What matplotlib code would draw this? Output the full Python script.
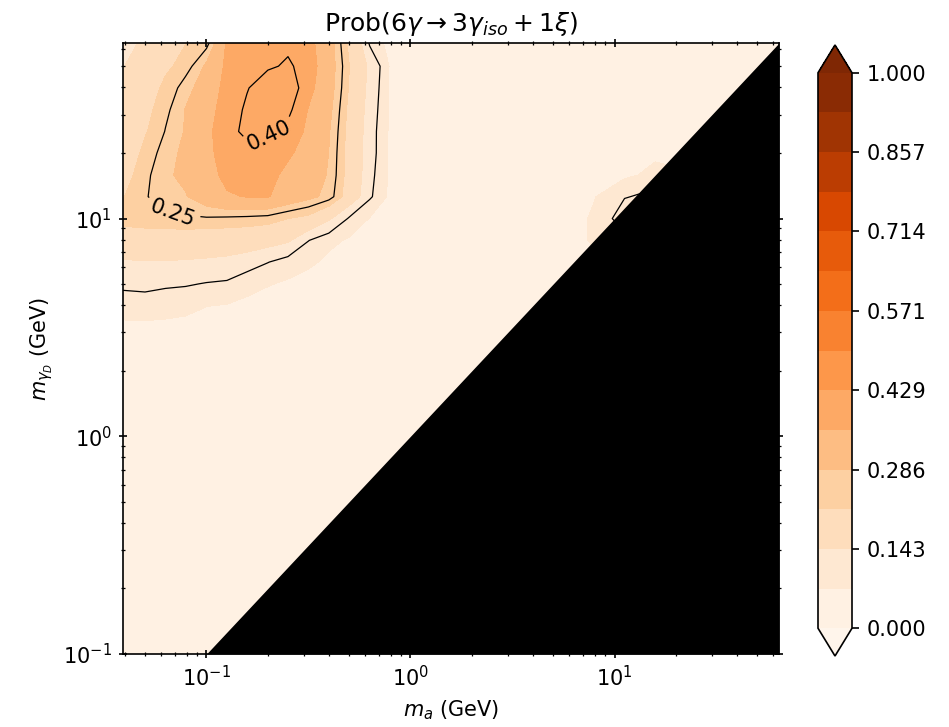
import numpy as np
import matplotlib
matplotlib.use("Agg")
import matplotlib.pyplot as plt

ma_grid = [0.039, 0.05, 0.063, 0.079, 0.1, 0.126, 0.158, 0.2, 0.251, 0.316,
           0.398, 0.501, 0.631, 0.794, 1.58, 3.98, 7.94, 11.2, 15.8, 66.0]
mgd_grid = [0.1, 1.0, 2.51, 3.16, 3.98, 5.01, 6.31, 7.94, 10.0, 12.6,
            15.8, 20.0, 25.1, 31.6, 39.8, 50.1, 66.0]

# Prob(6gamma -> 3gamma_iso + 1xi), one row per m_gammaD value (bottom to top)
prob = [
    [0.050, 0.050, 0.050, 0.050, 0.050, 0.050, 0.050, 0.050, 0.050, 0.050, 0.050, 0.050, 0.050, 0.050, 0.050, 0.050, 0.050, 0.050, 0.050, 0.050],
    [0.052, 0.052, 0.052, 0.051, 0.051, 0.050, 0.050, 0.050, 0.050, 0.050, 0.050, 0.050, 0.050, 0.050, 0.050, 0.050, 0.050, 0.050, 0.050, 0.050],
    [0.055, 0.055, 0.055, 0.054, 0.053, 0.052, 0.052, 0.051, 0.050, 0.050, 0.050, 0.050, 0.050, 0.050, 0.050, 0.050, 0.050, 0.050, 0.050, 0.050],
    [0.066, 0.066, 0.065, 0.063, 0.062, 0.060, 0.058, 0.056, 0.054, 0.052, 0.051, 0.050, 0.050, 0.050, 0.050, 0.050, 0.050, 0.050, 0.050, 0.050],
    [0.083, 0.085, 0.083, 0.080, 0.072, 0.070, 0.066, 0.062, 0.059, 0.056, 0.053, 0.052, 0.051, 0.050, 0.050, 0.050, 0.050, 0.050, 0.050, 0.050],
    [0.108, 0.110, 0.105, 0.103, 0.098, 0.095, 0.080, 0.073, 0.068, 0.063, 0.057, 0.054, 0.052, 0.050, 0.050, 0.050, 0.050, 0.050, 0.050, 0.050],
    [0.138, 0.140, 0.140, 0.138, 0.135, 0.130, 0.118, 0.101, 0.085, 0.076, 0.066, 0.058, 0.054, 0.051, 0.050, 0.050, 0.065, 0.060, 0.050, 0.050],
    [0.185, 0.187, 0.188, 0.186, 0.182, 0.180, 0.176, 0.165, 0.150, 0.101, 0.078, 0.068, 0.058, 0.053, 0.050, 0.050, 0.075, 0.090, 0.070, 0.050],
    [0.232, 0.238, 0.240, 0.245, 0.246, 0.243, 0.240, 0.235, 0.215, 0.200, 0.150, 0.095, 0.070, 0.058, 0.050, 0.050, 0.075, 0.120, 0.090, 0.050],
    [0.212, 0.246, 0.275, 0.283, 0.320, 0.352, 0.360, 0.360, 0.330, 0.300, 0.270, 0.180, 0.105, 0.064, 0.050, 0.050, 0.070, 0.098, 0.110, 0.050],
    [0.195, 0.240, 0.280, 0.295, 0.340, 0.370, 0.375, 0.370, 0.345, 0.320, 0.280, 0.190, 0.110, 0.065, 0.050, 0.050, 0.060, 0.066, 0.080, 0.050],
    [0.185, 0.225, 0.270, 0.297, 0.345, 0.380, 0.390, 0.385, 0.365, 0.335, 0.285, 0.190, 0.115, 0.065, 0.050, 0.050, 0.050, 0.060, 0.065, 0.050],
    [0.178, 0.210, 0.252, 0.290, 0.345, 0.390, 0.408, 0.405, 0.390, 0.345, 0.290, 0.195, 0.115, 0.066, 0.050, 0.050, 0.050, 0.050, 0.050, 0.050],
    [0.170, 0.200, 0.240, 0.288, 0.335, 0.385, 0.405, 0.425, 0.410, 0.355, 0.300, 0.200, 0.120, 0.066, 0.050, 0.050, 0.050, 0.050, 0.050, 0.050],
    [0.160, 0.190, 0.225, 0.268, 0.318, 0.380, 0.398, 0.420, 0.425, 0.375, 0.310, 0.210, 0.125, 0.067, 0.050, 0.050, 0.050, 0.050, 0.050, 0.050],
    [0.141, 0.170, 0.205, 0.232, 0.295, 0.372, 0.385, 0.395, 0.405, 0.385, 0.315, 0.215, 0.130, 0.068, 0.050, 0.050, 0.050, 0.050, 0.050, 0.050],
    [0.125, 0.150, 0.180, 0.210, 0.225, 0.365, 0.378, 0.388, 0.390, 0.375, 0.310, 0.200, 0.090, 0.060, 0.050, 0.050, 0.050, 0.050, 0.050, 0.050],
]

fill_levels = np.linspace(0, 1, 15)
plain_levels = [0.10]
labelled_levels = [0.25, 0.40]
cbar_ticks = np.linspace(0, 1, 8)
# where the labels of the 0.25 and 0.40 lines sit
label_pos = [(0.068, 10.8), (0.195, 25.3)]

xlim = (0.039, 64)
ylim = (0.1, 64)

X, Y = np.meshgrid(ma_grid, mgd_grid)
Z = np.array(prob)

fig = plt.figure(figsize=(949 / 150, 727 / 150), dpi=150)
ax = fig.add_axes([123 / 949, 1 - 654 / 727, 656 / 949, 611 / 727])
cax = fig.add_axes([818 / 949, 1 - 656 / 727, 34 / 949, 611 / 727])

# scales first, so the inline labels are cut in log screen space
ax.set_xscale("log")
ax.set_yscale("log")
ax.set_xlim(*xlim)
ax.set_ylim(*ylim)

cf = ax.contourf(X, Y, Z, levels=fill_levels, cmap="Oranges", extend="both")
ax.contour(X, Y, Z, levels=plain_levels, colors="black", linewidths=0.6)
cs = ax.contour(X, Y, Z, levels=labelled_levels, colors="black", linewidths=0.6)
ax.clabel(cs, fmt="%.2f", fontsize=10, manual=label_pos)

# kinematically forbidden region m_gammaD < m_a
diag = np.array([ylim[0], ylim[1]])
ax.fill_between(diag, diag, ylim[0], color="black", lw=0, zorder=3)

ax.set_xlim(*xlim)
ax.set_ylim(*ylim)
ax.tick_params(which="both", direction="inout", top=True, right=True)

ax.set_title(r"Prob($6\gamma \rightarrow 3\gamma_{iso} + 1\xi$)")
ax.set_xlabel(r"$m_a$ (GeV)")
ax.set_ylabel(r"$m_{\gamma_D}$ (GeV)")

fig.colorbar(cf, cax=cax, ticks=cbar_ticks, format="%.3f")

fig.savefig("out.png", dpi=150)
